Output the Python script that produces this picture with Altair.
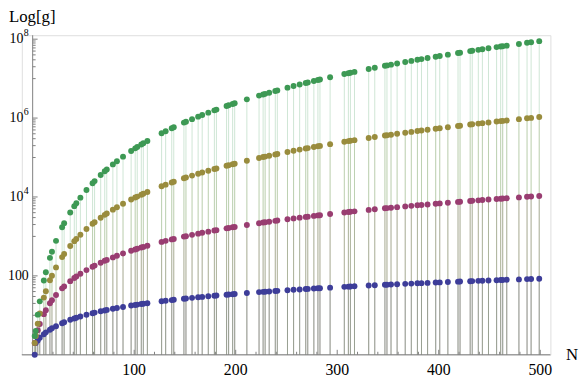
import altair as alt
import pandas as pd

# ---- data ----
primes = [2, 3, 5, 7, 11, 13, 17, 19, 23, 29,
          31, 37, 41, 43, 47, 53, 59, 61, 67, 71,
          73, 79, 83, 89, 97, 101, 103, 107, 109, 113,
          127, 131, 137, 139, 149, 151, 157, 163, 167, 173,
          179, 181, 191, 193, 197, 199, 211, 223, 227, 229,
          233, 239, 241, 251, 257, 263, 269, 271, 277, 281,
          283, 293, 307, 311, 313, 317, 331, 337, 347, 349,
          353, 359, 367, 373, 379, 383, 389, 397, 401, 409,
          419, 421, 431, 433, 439, 443, 449, 457, 461, 463,
          467, 479, 487, 491, 499]

blue = [1, 2, 2.3, 2.7, 3.3, 3.7, 4.3, 4.7, 5.3, 6.3,
        6.7, 7.7, 8.3, 8.7, 9.3, 10.3, 11.3, 11.7, 12.7, 13.3,
        13.7, 14.7, 15.3, 16.3, 17.7, 18.3, 18.7, 19.3, 19.7, 20.3,
        22.7, 23.3, 24.3, 24.7, 26.3, 26.7, 27.7, 28.7, 29.3, 30.3,
        31.3, 31.7, 33.3, 33.7, 34.3, 34.7, 36.7, 38.7, 39.3, 39.7,
        40.3, 41.3, 41.7, 43.3, 44.3, 45.3, 46.3, 46.7, 47.7, 48.3,
        48.7, 50.3, 52.7, 53.3, 53.7, 54.3, 56.7, 57.7, 59.3, 59.7,
        60.3, 61.3, 62.7, 63.7, 64.7, 65.3, 66.3, 67.7, 68.3, 69.7,
        71.3, 71.7, 73.3, 73.7, 74.7, 75.3, 76.3, 77.7, 78.3, 78.7,
        79.3, 81.3, 82.7, 83.3, 84.7]

magenta = [2, 3, 4.2, 6, 10.7, 13.5, 20.2, 24, 32.7, 48.2,
           54, 73.5, 88.2, 96, 113, 140, 171, 182, 216, 241,
           254, 294, 323, 368, 434, 468, 486, 523, 542, 580,
           726, 771, 840, 864, 988, 1014, 1094, 1176, 1233, 1320,
           1411, 1442, 1601, 1634, 1700, 1734, 1944, 2166, 2243, 2282,
           2360, 2481, 2522, 2731, 2860, 2993, 3128, 3174, 3314, 3408,
           3456, 3700, 4056, 4161, 4214, 4320, 4704, 4874, 5163, 5222,
           5340, 5521, 5766, 5954, 6144, 6273, 6468, 6734, 6868, 7142,
           7491, 7562, 7921, 7994, 8214, 8363, 8588, 8894, 9048, 9126,
           9283, 9761, 10086, 10251, 10584]

yellow = [2, 3, 6.1, 11.1, 28.1, 40.9, 77.2, 101, 164, 299,
          357, 574, 759, 865, 1105, 1543, 2084, 2289, 2983, 3516,
          3804, 4765, 5488, 6703, 8586, 9647, 10209, 11397, 12024, 13347,
          18734, 20503, 23360, 24368, 29846, 31032, 34777, 38812, 41668, 46210,
          51071, 52764, 61791, 63711, 67672, 69712, 82820, 97476, 102720, 105411,
          110934, 119574, 122551, 138178, 148163, 158618, 169553, 173307, 184900, 192909,
          196999, 218317, 250669, 260466, 265458, 275635, 313295, 330432, 360363, 366558,
          379161, 398601, 425540, 446522, 468182, 483005, 505820, 537343, 553584, 587042,
          630725, 639714, 685941, 695445, 724486, 744289, 774664, 816435, 837872, 848730,
          870726, 938988, 986423, 1010728, 1060529]

green = [3, 4, 10.4, 22.6, 76.1, 124, 286, 409, 771, 1708,
         2157, 4041, 5849, 6952, 9619, 14972, 22299, 25253, 35894, 44653,
         49588, 66873, 80672, 105243, 146253, 170758, 184105, 213132, 228869, 262942,
         412787, 465435, 553652, 585669, 767072, 807892, 940167, 1088056, 1195904, 1372469,
         1567896, 1637454, 2020581, 2104633, 2279177, 2372558, 2984308, 3707364, 3975301, 4114589,
         4404113, 4866715, 5028722, 5900256, 6474788, 7090278, 7748650, 7977969, 8696539, 9201839,
         9462593, 10850435, 13043194, 13726610, 14078222, 14801667, 17555028, 18845708, 21153403, 21639236,
         22636000, 24195194, 26397778, 28145875, 29979389, 31250542, 33232514, 36020042, 37477778, 40525569,
         44592361, 45441111, 49868028, 50790847, 53636250, 55598500, 58642222, 62892861, 65102806, 66229361,
         68526292, 75776528, 80919764, 83587403, 89120000]

series_names = ["g1", "g2", "g3", "g4"]
series_colors = ["#3D3D99", "#993D71", "#998C3D", "#3D9954"]

x_major = [100, 200, 300, 400, 500]
x_major_labels = ["100", "200", "300", "400", "500"]
x_minor = [20, 40, 60, 80, 120, 140, 160, 180, 220, 240, 260, 280,
           320, 340, 360, 380, 420, 440, 460, 480]
y_major = [100, 1e4, 1e6, 1e8]
y_major_base = ["100", "10", "10", "10"]
y_major_exp = ["", "4", "6", "8"]
y_minor = [j * 10 ** e for e in (1, 3, 5, 7) for j in range(1, 10)]

# ---- layout ----
W, H = 536, 324
X0, X1 = -10.7, 510
YTOP = 10 ** 8.1
AX = "#7f7f7f"
FONT = "Liberation Serif, Times New Roman, serif"
px0 = (0 - X0) * W / (X1 - X0)  # pixel of N = 0 inside the plot

xs = alt.Scale(domain=[X0, X1], nice=False, zero=False)
ys = alt.Scale(type="log", domain=[1, YTOP], nice=False)

rows = []
for name, vals in zip(series_names, [blue, magenta, yellow, green]):
    for p, v in zip(primes, vals):
        rows.append({"N": p, "g": v, "s": name})
df = pd.DataFrame(rows)

color = alt.Color("s:N", scale=alt.Scale(domain=series_names, range=series_colors), legend=None)

fill = alt.Chart(df).mark_rule(strokeWidth=1, opacity=0.25).encode(
    x=alt.X("N:Q", scale=xs, axis=None),
    y=alt.Y("g:Q", scale=ys, axis=None),
    y2=alt.datum(1),
    color=color,
)

points = alt.Chart(df).mark_circle(size=36, opacity=1).encode(
    x=alt.X("N:Q", scale=xs, axis=None),
    y=alt.Y("g:Q", scale=ys, axis=None),
    color=color,
)

xaxis = alt.Chart(pd.DataFrame({"x": [X0], "x2": [X1], "y": [1]})).mark_rule(color=AX, strokeWidth=1).encode(
    x=alt.X("x:Q", scale=xs, axis=None), x2="x2:Q", y=alt.Y("y:Q", scale=ys, axis=None))
yaxis = alt.Chart(pd.DataFrame({"x": [0], "y": [1], "y2": [YTOP]})).mark_rule(color=AX, strokeWidth=1).encode(
    x=alt.X("x:Q", scale=xs, axis=None), y=alt.Y("y:Q", scale=ys, axis=None), y2="y2:Q")

xtick_major = alt.Chart(pd.DataFrame({"x": x_major, "y": 1})).mark_rule(color=AX).encode(
    x=alt.X("x:Q", scale=xs, axis=None), y=alt.Y("y:Q", scale=ys, axis=None), y2=alt.value(H - 5))
xtick_minor = alt.Chart(pd.DataFrame({"x": x_minor, "y": 1})).mark_rule(color=AX).encode(
    x=alt.X("x:Q", scale=xs, axis=None), y=alt.Y("y:Q", scale=ys, axis=None), y2=alt.value(H - 3))
ytick_major = alt.Chart(pd.DataFrame({"y": y_major, "x": 0})).mark_rule(color=AX).encode(
    x=alt.X("x:Q", scale=xs, axis=None), x2=alt.value(px0 + 5), y=alt.Y("y:Q", scale=ys, axis=None))
ytick_minor = alt.Chart(pd.DataFrame({"y": y_minor, "x": 0})).mark_rule(color=AX).encode(
    x=alt.X("x:Q", scale=xs, axis=None), x2=alt.value(px0 + 3), y=alt.Y("y:Q", scale=ys, axis=None))

xlabels = alt.Chart(pd.DataFrame({"x": x_major, "t": x_major_labels})).mark_text(
    font=FONT, fontSize=16, align="center", baseline="alphabetic", color="black").encode(
    x=alt.X("x:Q", scale=xs, axis=None), y=alt.value(H + 21), text="t:N")

ylab_df = pd.DataFrame({"y": y_major, "b": y_major_base, "e": y_major_exp})
ylab_100 = alt.Chart(ylab_df.iloc[:1]).mark_text(
    font=FONT, fontSize=14, align="right", baseline="middle", color="black").encode(
    x=alt.value(7), y=alt.Y("y:Q", scale=ys, axis=None), text="b:N")
ylab_base = alt.Chart(ylab_df.iloc[1:]).mark_text(
    font=FONT, fontSize=14, align="right", baseline="middle", color="black").encode(
    x=alt.value(1.5), y=alt.Y("y:Q", scale=ys, axis=None), text="b:N")
ylab_exp = alt.Chart(ylab_df.iloc[1:]).mark_text(
    font=FONT, fontSize=10, align="left", baseline="middle", dy=-6, color="black").encode(
    x=alt.value(2), y=alt.Y("y:Q", scale=ys, axis=None), text="e:N")

ytitle = alt.Chart(pd.DataFrame({"t": ["Log[g]"]})).mark_text(
    font=FONT, fontSize=17, align="left", baseline="alphabetic", color="black").encode(
    x=alt.value(-13), y=alt.value(-13.5), text="t:N")
xtitle = alt.Chart(pd.DataFrame({"t": ["N"]})).mark_text(
    font=FONT, fontSize=17, align="center", baseline="middle", color="black").encode(
    x=alt.value(W + 22), y=alt.value(H), text="t:N")

chart = alt.layer(
    fill, xaxis, yaxis, xtick_major, xtick_minor, ytick_major, ytick_minor,
    points, xlabels, ylab_100, ylab_base, ylab_exp, ytitle, xtitle,
).properties(
    width=W, height=H,
    padding={"left": 14, "top": 25, "right": 29, "bottom": 24},
    autosize=alt.AutoSizeParams(type="none"),
).configure_view(stroke=None).configure(background="white")

chart.save("out.html", embed_options={"renderer": "svg", "actions": False})
